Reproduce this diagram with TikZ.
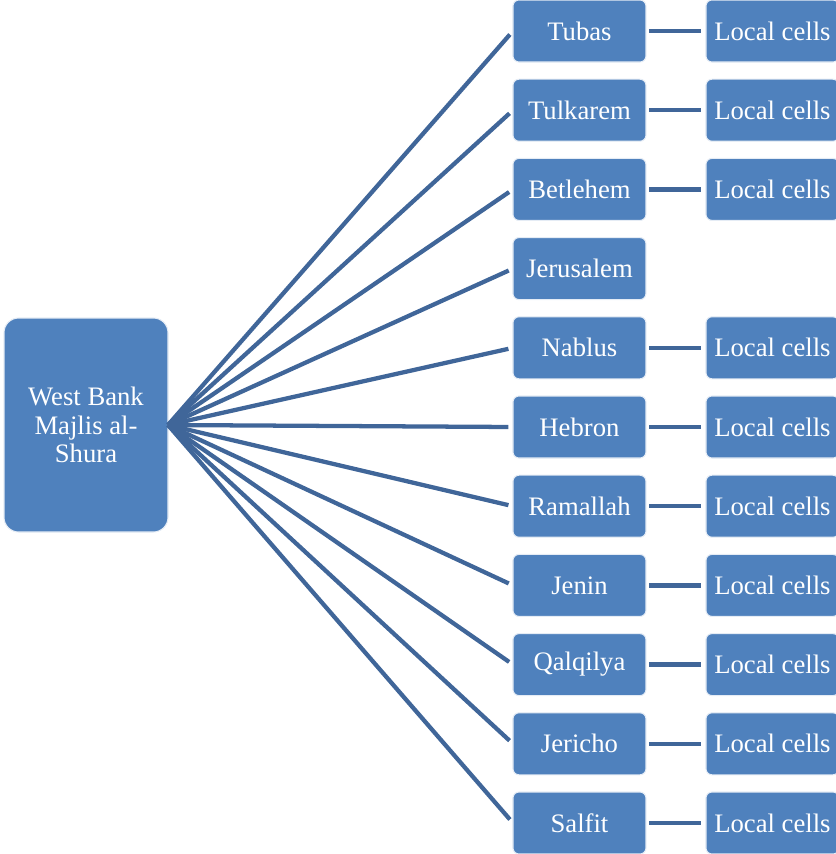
\documentclass[tikz,border=0pt]{standalone}
\usepackage{fontspec}
\setmainfont{Liberation Serif}
\usepackage{xcolor}
\usepackage{tikz}
\usetikzlibrary{positioning}
\definecolor{boxblue}{RGB}{79,129,189}
\definecolor{lineblue}{RGB}{64,102,153}
\tikzset{main node/.style={rectangle,rounded corners=11pt,fill=boxblue,draw=white!85!boxblue,line width=0.8pt,outer sep=0pt,text=white,minimum width=123pt,minimum height=160.5pt,align=center,inner sep=2pt,font=\fontsize{20}{21.4}\selectfont},
city node/.style={rectangle,rounded corners=4.5pt,fill=boxblue,draw=white!85!boxblue,line width=0.8pt,outer sep=0pt,text=white,minimum width=99.75pt,minimum height=46.5pt,inner sep=1pt,font=\fontsize{20}{24}\selectfont},}

\begin{document}
\begin{tikzpicture}
    \useasboundingbox (0,0) rectangle (627pt,-640.5pt);

    \node[main node] (0) at (64.5pt,-318.75pt) {West Bank\\Majlis al-\\Shura};

    \node[city node] (1) at (434.6pt,-23.25pt) {Tubas};
    \node[city node] (2) [below = 12.9pt of 1] {Tulkarem};
    \node[city node] (3) [below = 12.9pt of 2] {Betlehem};
    \node[city node] (4) [below = 12.9pt of 3] {Jerusalem};
    \node[city node] (5) [below = 12.9pt of 4] {Nablus};
    \node[city node] (6) [below = 12.9pt of 5] {Hebron};
    \node[city node] (7) [below = 12.9pt of 6] {Ramallah};
    \node[city node] (8) [below = 12.9pt of 7] {Jenin};
    \node[city node] (9) [below = 12.9pt of 8] {Qalqilya};
    \node[city node] (10) [below = 12.9pt of 9] {Jericho};
    \node[city node] (11) [below = 12.9pt of 10] {Salfit};

    \node[city node] (l1) [right = 45pt of 1] {Local cells};
    \node[city node] (l2) [right = 45pt of 2] {Local cells};
    \node[city node] (l3) [right = 45pt of 3] {Local cells};
    \node[city node] (l5) [right = 45pt of 5] {Local cells};
    \node[city node] (l6) [right = 45pt of 6] {Local cells};
    \node[city node] (l7) [right = 45pt of 7] {Local cells};
    \node[city node] (l8) [right = 45pt of 8] {Local cells};
    \node[city node] (l9) [right = 45pt of 9] {Local cells};
    \node[city node] (l10) [right = 45pt of 10] {Local cells};
    \node[city node] (l11) [right = 45pt of 11] {Local cells};

    \path[draw,lineblue,line width=3.2pt,shorten >=3.5pt]
    (0.east) edge (1.west)
    (0.east) edge (2.west)
    (0.east) edge (3.west)
    (0.east) edge (4.west)
    (0.east) edge (5.west)
    (0.east) edge (6.west)
    (0.east) edge (7.west)
    (0.east) edge (8.west)
    (0.east) edge (9.west)
    (0.east) edge (10.west)
    (0.east) edge (11.west)
    ;

    \path[draw,lineblue,line width=3.2pt,shorten >=4pt,shorten <=2.5pt]
    (1) edge (l1)
    (2) edge (l2)
    (3) edge (l3)
    (5) edge (l5)
    (6) edge (l6)
    (7) edge (l7)
    (8) edge (l8)
    (9) edge (l9)
    (10) edge (l10)
    (11) edge (l11)
    ;
\end{tikzpicture}
\end{document}
